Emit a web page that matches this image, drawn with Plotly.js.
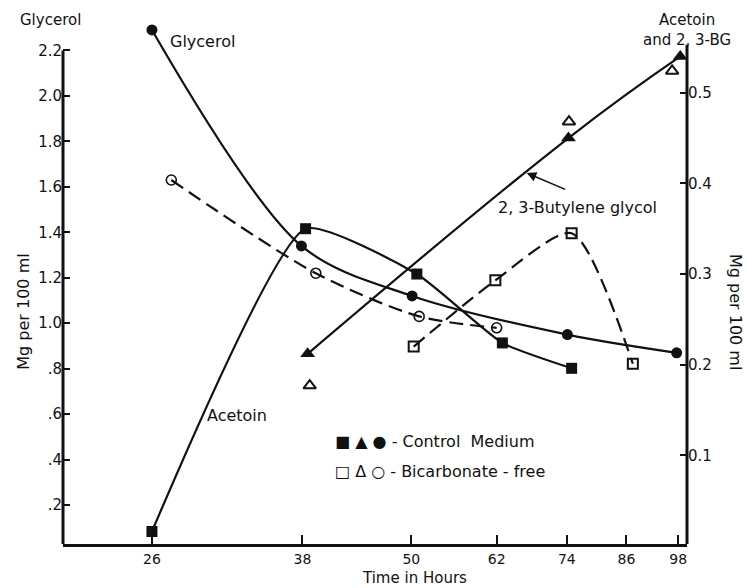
<!DOCTYPE html>
<html>
<head>
<meta charset="utf-8">
<script src="https://cdn.plot.ly/plotly-3.0.1.min.js"></script>
<style>html,body{margin:0;padding:0;background:#fff;}#chart{width:747px;height:588px;}</style>
</head>
<body>
<div id="chart"></div>
<script>
// ---- Data ----
const xTicks = [26, 38, 50, 62, 74, 86, 98];
const yLeftTicks = [0.2, 0.4, 0.6, 0.8, 1.0, 1.2, 1.4, 1.6, 1.8, 2.0, 2.2];
const yLeftTickText = [".2", ".4", ".6", ".8", "1.0", "1.2", "1.4", "1.6", "1.8", "2.0", "2.2"];
const yRightTicks = [0.1, 0.2, 0.3, 0.4, 0.5];
const yRightTickText = ["0.1", "0.2", "0.3", "0.4", "0.5"];

// Glycerol (left axis)
const glyControlT = [26, 37.9, 50.1, 74.1, 97.6];
const glyControl  = [2.29, 1.34, 1.12, 0.95, 0.87];
const glyBicT     = [27.3, 39.3, 51, 62];
const glyBic      = [1.63, 1.22, 1.03, 0.98];

// Acetoin (right axis)
const aceControlT = [26, 38.3, 50.7, 62.9, 74.9];
const aceControl  = [0.016, 0.35, 0.30, 0.224, 0.196];
const aceBicT     = [50.3, 61.8, 74.9, 87.4];
const aceBic      = [0.22, 0.293, 0.345, 0.201];

// 2,3-Butylene glycol (right axis)
const bgControlT  = [38.5, 74.3, 98.5];
const bgControl   = [0.212, 0.450, 0.540];
const bgBicT      = [38.7, 74.4, 96.5];
const bgBic       = [0.177, 0.468, 0.524];

// ---- Styling ----
const FONT = "DejaVu Sans, Liberation Sans, Arial, sans-serif";
const INK = "#111";
const LW = 2.2;
const DASH = "14px,7px";

const traces = [
  {x: glyControlT, y: glyControl, yaxis: "y", mode: "lines+markers", name: "Glycerol control",
   line: {color: INK, width: LW, shape: "spline", smoothing: 0.9},
   marker: {symbol: "circle", size: 11, color: INK}, cliponaxis: false},
  {x: glyBicT, y: glyBic, yaxis: "y", mode: "lines+markers", name: "Glycerol bicarbonate-free",
   line: {color: INK, width: LW, dash: DASH, shape: "spline", smoothing: 0.8},
   marker: {symbol: "circle-open", size: 10, color: INK, line: {width: 1.6, color: INK}}, cliponaxis: false},
  {x: aceControlT, y: aceControl, yaxis: "y2", mode: "lines+markers", name: "Acetoin control",
   line: {color: INK, width: LW, shape: "spline", smoothing: 0.5},
   marker: {symbol: "square", size: 11, color: INK}, cliponaxis: false},
  {x: aceBicT, y: aceBic, yaxis: "y2", mode: "lines+markers", name: "Acetoin bicarbonate-free",
   line: {color: INK, width: LW, dash: DASH, shape: "spline", smoothing: 0.7},
   marker: {symbol: "square-open", size: 10, color: INK, line: {width: 2, color: INK}}, cliponaxis: false},
  {x: bgControlT, y: bgControl, yaxis: "y2", mode: "lines+markers", name: "2,3-BG control",
   line: {color: INK, width: LW, shape: "spline", smoothing: 1.2},
   marker: {symbol: "triangle-up", size: 13, color: INK}, cliponaxis: false},
  {x: bgBicT, y: bgBic, yaxis: "y2", mode: "markers", name: "2,3-BG bicarbonate-free",
   marker: {symbol: "triangle-up-open", size: 11, color: INK, line: {width: 2, color: INK}}, cliponaxis: false}
];

const Y1MIN = 0.029, Y1MAX = 2.325;
const Y2MIN = 0.0022, Y2MAX = 0.578;

function label(text, x, y, size, extra) {
  return Object.assign({text: text, xref: "paper", yref: "paper", x: x, y: y,
    xanchor: "center", yanchor: "middle", showarrow: false, font: {size: size}}, extra || {});
}

const layout = {
  width: 747, height: 588,
  margin: {l: 63, r: 60, t: 22, b: 44, pad: 0},
  paper_bgcolor: "#fff", plot_bgcolor: "#fff",
  showlegend: false,
  font: {family: FONT, color: INK, size: 15},
  xaxis: {
    type: "log", range: [1.3176, 2.0008],
    tickvals: xTicks, ticktext: xTicks.map(String),
    ticks: "inside", ticklen: 9, tickwidth: 2, tickcolor: INK,
    showline: true, linewidth: 3, linecolor: INK,
    showgrid: false, zeroline: false,
    tickfont: {family: FONT, size: 14, color: INK}
  },
  yaxis: {
    range: [Y1MIN, Y1MAX],
    tickvals: yLeftTicks, ticktext: yLeftTickText,
    ticks: "inside", ticklen: 7, tickwidth: 2, tickcolor: INK,
    showline: false, showgrid: false, zeroline: false,
    tickfont: {family: FONT, size: 15, color: INK}
  },
  yaxis2: {
    overlaying: "y", side: "right",
    range: [Y2MIN, Y2MAX],
    tickvals: yRightTicks, ticktext: yRightTickText,
    ticks: "inside", ticklen: 7, tickwidth: 2, tickcolor: INK,
    showline: false, showgrid: false, zeroline: false,
    tickfont: {family: FONT, size: 15, color: INK}
  },
  shapes: [
    {type: "line", xref: "paper", yref: "y", x0: 0, x1: 0, y0: Y1MIN, y1: 2.2, line: {color: INK, width: 3}},
    {type: "line", xref: "paper", yref: "y2", x0: 1, x1: 1, y0: Y2MIN, y1: 0.553, line: {color: INK, width: 3}}
  ],
  annotations: [
    label("Glycerol", -0.02, 1.004, 15),
    label("Acetoin", 1.0, 1.004, 15),
    label("and 2, 3-BG", 1.0, 0.9655, 15),
    label("Glycerol", 0.2236, 0.9617, 16),
    label("Acetoin", 0.2785, 0.247, 16),
    label("2, 3-Butylene glycol", 0.8253, 0.6437, 16),
    {text: "", xref: "paper", yref: "paper", x: 0.7431, y: 0.7107, ax: 40, ay: 17, showarrow: true,
     arrowhead: 2, arrowsize: 1.2, arrowwidth: 1.6, arrowcolor: INK},
    label("■ ▲ ● - Control  Medium", 0.4327, 0.1973, 16, {xanchor: "left"}),
    label("□ Δ ○ - Bicarbonate - free", 0.4327, 0.1398, 16, {xanchor: "left"}),
    label("Mg per 100 ml", -0.0625, 0.445, 16, {textangle: -90}),
    label("Mg per 100 ml", 1.078, 0.445, 16, {textangle: 90}),
    label("Time in Hours", 0.564, -0.066, 15)
  ]
};

Plotly.newPlot("chart", traces, layout, {staticPlot: true, displayModeBar: false});
</script>
</body>
</html>
